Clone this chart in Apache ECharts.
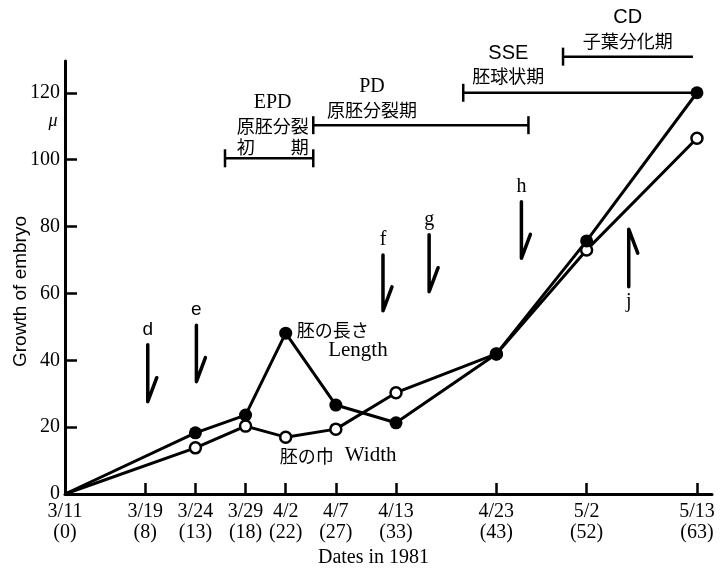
<!DOCTYPE html>
<html>
<head>
<meta charset="utf-8">
<script src="https://cdn.jsdelivr.net/npm/echarts@6/dist/echarts.min.js"></script>
<style>
html,body{margin:0;padding:0;background:#fff;}
#chart{width:725px;height:570px;}
</style>
</head>
<body>
<div id="chart"></div>
<script>
// ---- data ----
const days = [0, 13, 18, 22, 27, 33, 43, 52, 63];
const lengthVals = [0, 18.3, 23.6, 48.1, 26.6, 21.3, 41.9, 75.7, 120];
const widthVals = [0, 13.8, 20.3, 17.0, 19.4, 30.3, 41.9, 73.0, 106.4];

const tickDays = [0, 8, 13, 18, 22, 27, 33, 43, 52, 63];
const tickDates = ['3/11', '3/19', '3/24', '3/29', '4/2', '4/7', '4/13', '4/23', '5/2', '5/13'];
const yTicks = [0, 20, 40, 60, 80, 100, 120];

// observation arrows (day, tail value, head value)
const arrowNames = ['d', 'e', 'f', 'g', 'h', 'j'];
const arrowDays = [8.25, 13.1, 31.7, 36.3, 45.5, 56.2];
const arrowTail = [44.6, 50.5, 71.5, 77.5, 87.4, 62.0];
const arrowHead = [27.6, 33.6, 54.8, 60.5, 70.5, 79.2];

// developmental phases
const phaseNames = ['EPD', 'PD', 'SSE', 'CD'];
const phaseJa = ['原胚分裂\n初　　期', '原胚分裂期', '胚球状期', '子葉分化期'];
const phaseStart = [15.95, 24.75, 39.7, 49.65];
const phaseEnd = [24.75, 46.2, 63, 62.6];
const phaseLevel = [100.4, 110.3, 120, 130.8];

// annotation texts
const noteTexts = ['胚の長さ', 'Length', '胚の巾', 'Width', 'μ'];
const noteDays = [23.1, 29.2, 21.4, 27.9, -1.2];
const noteVals = [49, 42.8, 11.4, 11.4, 111.5];

// ---- presentation config (not data) ----
const SERIF = '"Liberation Serif", "DejaVu Serif", serif';
const SANS = '"Liberation Sans", Arial, sans-serif';
const CJK = '"Noto Sans CJK JP", sans-serif';
const phaseCaps = [[1, 1], [1, 1], [1, 0], [1, 0]];
const phaseTextAt = [[20.7, 103.8], [30.6, 114.8], [44.2, 125], [56.1, 135.5]];
const phaseLatinFont = ['20px ' + SERIF, '20px ' + SERIF, '20px ' + SANS, '20px ' + SANS];
const noteStyle = [
  {font: '18px ' + CJK, align: 'left'},
  {font: '21px ' + SERIF, align: 'center'},
  {font: '18px ' + CJK, align: 'left'},
  {font: '21px ' + SERIF, align: 'left'},
  {font: 'italic 18px ' + SERIF, align: 'center'}
];

const chart = echarts.init(document.getElementById('chart'), null, {renderer: 'canvas'});

const lineData = (vals) => days.map((d, i) => i === 0 ? {value: [d, vals[i]], symbol: 'none'} : [d, vals[i]]);

const option = {
  animation: false,
  backgroundColor: '#fff',
  grid: {left: 65, right: 13, top: 61, bottom: 76, containLabel: false, outerBoundsMode: 'none'},
  xAxis: {
    type: 'value', min: 0, max: 64.5,
    name: 'Dates in 1981', nameLocation: 'middle', nameGap: 54, nameMoveOverlap: false,
    nameTextStyle: {fontFamily: SERIF, fontSize: 20, color: '#000', padding: [0, 30, 0, 0]},
    axisLine: {lineStyle: {color: '#000', width: 3}},
    axisTick: {inside: true, length: 11, lineStyle: {color: '#000', width: 2.5}, customValues: tickDays},
    axisLabel: {
      customValues: tickDays, margin: 7, color: '#000', fontFamily: SERIF, fontSize: 20, lineHeight: 21,
      formatter: (v) => { const i = tickDays.indexOf(v); return i < 0 ? '' : tickDates[i] + '\n(' + tickDays[i] + ')'; }
    },
    splitLine: {show: false}
  },
  yAxis: {
    type: 'value', min: 0, max: 129.5,
    name: 'Growth of embryo', nameLocation: 'middle', nameGap: 35, nameMoveOverlap: false,
    nameTextStyle: {fontFamily: SANS, fontSize: 19, color: '#000', padding: [0, 28, 0, 0]},
    axisLine: {lineStyle: {color: '#000', width: 3}},
    axisTick: {inside: true, length: 12, lineStyle: {color: '#000', width: 2.5}, customValues: yTicks},
    axisLabel: {customValues: yTicks, margin: 5, color: '#000', fontFamily: SERIF, fontSize: 20},
    splitLine: {show: false}
  },
  series: [
    {
      name: 'Width', type: 'line', data: lineData(widthVals),
      symbol: 'circle', symbolSize: 11,
      lineStyle: {color: '#000', width: 3},
      itemStyle: {color: '#fff', borderColor: '#000', borderWidth: 2.5},
      z: 3
    },
    {
      name: 'Length', type: 'line', data: lineData(lengthVals),
      symbol: 'circle', symbolSize: 13,
      lineStyle: {color: '#000', width: 3},
      itemStyle: {color: '#000', borderColor: '#000', borderWidth: 0},
      z: 4
    },
    {
      type: 'custom', name: 'arrows', clip: false, silent: true, z: 5,
      data: arrowDays.map((d, i) => [d, arrowTail[i], arrowHead[i]]),
      encode: {x: 0, y: [1, 2]},
      renderItem: (params, api) => {
        const i = params.dataIndex;
        const tail = api.coord([api.value(0), api.value(1)]);
        const head = api.coord([api.value(0), api.value(2)]);
        const s = head[1] > tail[1] ? 1 : -1;
        return {
          type: 'group', children: [
            {type: 'polyline', shape: {points: [tail, head, [head[0] + 9, head[1] - 24 * s]]},
             style: {stroke: '#000', lineWidth: 3.5, fill: null, lineJoin: 'round', lineCap: 'round'}},
            {type: 'text', style: {text: arrowNames[i], x: tail[0], y: tail[1] - 15 * s,
             align: 'center', verticalAlign: 'middle', font: (i < 2 ? '19px ' + SANS : '20px ' + SERIF), fill: '#000'}}
          ]
        };
      }
    },
    {
      type: 'custom', name: 'phases', clip: false, silent: true, z: 5,
      data: phaseStart.map((s, i) => [s, phaseEnd[i], phaseLevel[i]]),
      encode: {x: [0, 1], y: 2},
      renderItem: (params, api) => {
        const i = params.dataIndex;
        const a = api.coord([api.value(0), api.value(2)]);
        const b = api.coord([api.value(1), api.value(2)]);
        const t = api.coord(phaseTextAt[i]);
        const kids = [
          {type: 'line', shape: {x1: a[0], y1: a[1], x2: b[0], y2: b[1]}, style: {stroke: '#000', lineWidth: 2.5}}
        ];
        if (phaseCaps[i][0]) kids.push({type: 'line', shape: {x1: a[0], y1: a[1] - 9, x2: a[0], y2: a[1] + 9}, style: {stroke: '#000', lineWidth: 2.5}});
        if (phaseCaps[i][1]) kids.push({type: 'line', shape: {x1: b[0], y1: b[1] - 9, x2: b[0], y2: b[1] + 9}, style: {stroke: '#000', lineWidth: 2.5}});
        const lines = phaseJa[i].split('\n');
        const lh = 21;
        lines.forEach((ln, k) => {
          kids.push({type: 'text', style: {text: ln, x: t[0], y: t[1] - (lines.length - 1 - k) * lh,
            align: 'center', verticalAlign: 'middle', font: '18px ' + CJK, fill: '#000'}});
        });
        kids.push({type: 'text', style: {text: phaseNames[i], x: t[0], y: t[1] - (lines.length - 1) * lh - 23,
          align: 'center', verticalAlign: 'middle', font: phaseLatinFont[i], fill: '#000'}});
        return {type: 'group', children: kids};
      }
    },
    {
      type: 'custom', name: 'notes', clip: false, silent: true, z: 5,
      data: noteDays.map((d, i) => [d, noteVals[i]]),
      encode: {x: 0, y: 1},
      renderItem: (params, api) => {
        const i = params.dataIndex;
        const p = api.coord([api.value(0), api.value(1)]);
        return {type: 'text', style: {text: noteTexts[i], x: p[0], y: p[1],
          align: noteStyle[i].align, verticalAlign: 'middle', font: noteStyle[i].font, fill: '#000'}};
      }
    }
  ]
};
chart.setOption(option);
</script>
</body>
</html>
